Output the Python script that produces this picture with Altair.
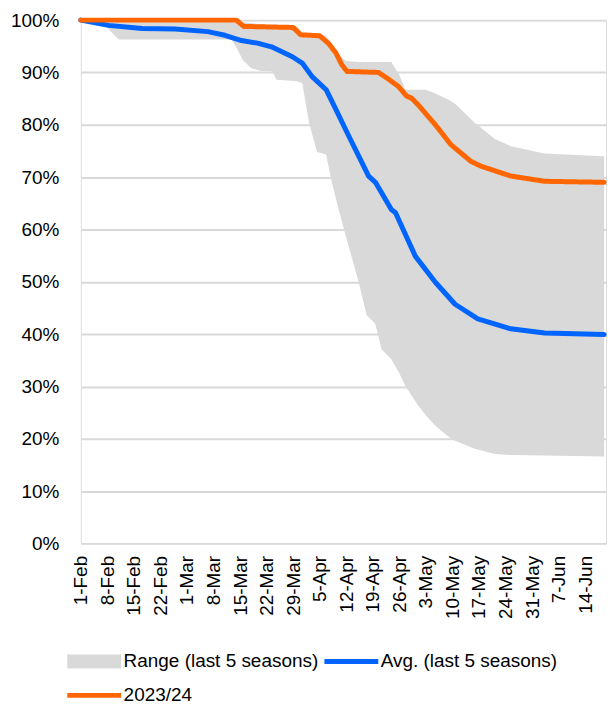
import json
import altair as alt
import pandas as pd

# ---- data ----
x_labels = ["1-Feb", "8-Feb", "15-Feb", "22-Feb", "1-Mar", "8-Mar", "15-Mar", "22-Mar",
            "29-Mar", "5-Apr", "12-Apr", "19-Apr", "26-Apr", "3-May", "10-May", "17-May",
            "24-May", "31-May", "7-Jun", "14-Jun"]
tick_days = [7 * i for i in range(len(x_labels))]

# days since 1-Feb
range_days = [0, 3, 6.5, 10, 39.8, 41.4, 42.7, 45, 47.6, 50.5, 51.6, 57, 58.4, 60.2, 62.3,
              64.7, 66.2, 68, 69.9, 73.3, 75.4, 77.2, 77.7, 79.3, 81.9, 84, 85.6, 89, 91,
              93.5, 97, 98.7, 103.9, 109.2, 113.4, 122.3, 138]
range_hi = [100, 100, 100, 100, 100, 100, 99.6, 99.4, 99.2, 99, 99, 98.8, 97.6, 97.5, 97.5,
            97, 95.5, 93.5, 92.2, 92, 92, 92, 92, 92, 92, 89.5, 86.7, 86.7, 86.7,
            86, 84.8, 84, 80.4, 77.3, 75.9, 74.5, 74]
range_lo = [100, 99.6, 98.9, 96.3, 96.3, 94.3, 92.4, 90.8, 90.3, 90.2, 88.6, 88.3, 88, 80.4, 74.8,
            74.3, 69, 63.8, 58.7, 49.9, 43.6, 42.3, 41.9, 37.1, 35.2, 32.5, 30.1, 26.3, 24.5,
            22.5, 20.4, 19.6, 18.1, 17.1, 16.9, 16.8, 16.6]

avg_days = [0, 7.3, 16.2, 24.9, 33.5, 38, 42.4, 46.6, 50.3, 55.8, 58.4, 61, 64.7, 67.3, 70.7,
            73.3, 75.9, 77.7, 81.9, 83, 88.2, 93.5, 98.7, 104.7, 113.4, 122.3, 138]
avg_vals = [100, 99, 98.4, 98.3, 97.8, 97.1, 96.1, 95.6, 94.9, 93, 91.8, 89.2, 86.7, 82.9, 77.8,
            74, 70.2, 69, 63.8, 63.2, 54.9, 49.9, 45.7, 42.9, 41, 40.2, 39.9]

cur_days = [0, 41, 43, 56, 58, 63, 65.4, 67.3, 68.8, 70.2, 78.5, 81, 83.8, 85.9, 87.2, 89,
            93.5, 97.6, 102.9, 105.5, 113.4, 122.3, 138]
cur_vals = [100, 100, 98.8, 98.6, 97.2, 97, 95.5, 93.7, 91.5, 90.2, 90, 88.8, 87.3, 85.5, 85.1,
            83.8, 80, 76.2, 73, 72.1, 70.2, 69.2, 69.0]

series_names = ["Range (last 5 seasons)", "Avg. (last 5 seasons)", "2023/24"]
series_colors = ["#d9d9d9", "#0064ff", "#ff6600"]

# ---- tables ----
df_range = pd.DataFrame({"day": range_days, "lo": [v / 100 for v in range_lo],
                         "hi": [v / 100 for v in range_hi], "s_range": series_names[0]})
df_avg = pd.DataFrame({"day": avg_days, "value": [v / 100 for v in avg_vals], "s_avg": series_names[1]})
df_cur = pd.DataFrame({"day": cur_days, "value": [v / 100 for v in cur_vals], "s_cur": series_names[2]})

FONT = "Liberation Sans"
FS = 19
label_expr = json.dumps(x_labels) + "[round(datum.value / 7)]"

x_enc = alt.X("day:Q",
              scale=alt.Scale(domain=[0, 138.5], nice=False, zero=False),
              axis=alt.Axis(values=tick_days, labelExpr=label_expr, labelAngle=-90,
                            labelAlign="right", labelBaseline="middle", labelPadding=12,
                            ticks=False, domain=False, grid=False, title=None,
                            labelFont=FONT, labelFontSize=FS, labelColor="#000000"))
y_axis = alt.Axis(values=[i / 10 for i in range(11)], format=".0%", ticks=False, domain=False,
                  grid=True, gridColor="#d9d9d9", gridWidth=2, title=None, labelPadding=22,
                  labelFont=FONT, labelFontSize=FS, labelColor="#000000")
y_scale = alt.Scale(domain=[0, 1], nice=False)

# small nominal symbol size, wide custom paths (54 px wide swatches)
RECT = "M-3.86,-1H3.86V1H-3.86Z"
LINE = "M-3.86,0H3.86"
common_legend = dict(orient="none", title=None, labelFont=FONT, labelFontSize=FS,
                     labelColor="#000000", labelLimit=0, symbolSize=196,
                     labelOffset=20, symbolOpacity=1)

area = alt.Chart(df_range).mark_area(opacity=1).encode(
    x=x_enc, y=alt.Y("lo:Q", scale=y_scale, axis=y_axis), y2="hi:Q",
    fill=alt.Fill("s_range:N", scale=alt.Scale(domain=[series_names[0]], range=[series_colors[0]]),
                  legend=alt.Legend(legendX=4, legendY=634, symbolType=RECT,
                                    symbolStrokeWidth=0, **common_legend)))
avg_line = alt.Chart(df_avg).mark_line(strokeWidth=5, strokeCap="round", strokeJoin="round").encode(
    x=x_enc, y=alt.Y("value:Q", scale=y_scale),
    stroke=alt.Stroke("s_avg:N", scale=alt.Scale(domain=[series_names[1]], range=[series_colors[1]]),
                      legend=alt.Legend(legendX=262, legendY=634, symbolType=LINE,
                                        symbolStrokeWidth=5, **common_legend)))
cur_line = alt.Chart(df_cur).mark_line(strokeWidth=5, strokeCap="round", strokeJoin="round",
                                       color=series_colors[2]).encode(
    x=x_enc, y=alt.Y("value:Q", scale=y_scale),
    strokeDash=alt.StrokeDash("s_cur:N", scale=alt.Scale(domain=[series_names[2]], range=[[1, 0]]),
                              legend=alt.Legend(legendX=4, legendY=668, symbolType=LINE,
                                                symbolStrokeWidth=5,
                                                symbolStrokeColor=series_colors[2], **common_legend)))

chart = alt.layer(area, avg_line, cur_line).resolve_scale(
    fill="independent", stroke="independent", strokeDash="independent"
).properties(
    width=527, height=525,
    padding={"left": 2, "top": 2, "right": 0, "bottom": 0},
).configure_view(stroke=None).configure(background="#ffffff")

chart.save("out.html", embed_options={"renderer": "svg", "actions": False})
